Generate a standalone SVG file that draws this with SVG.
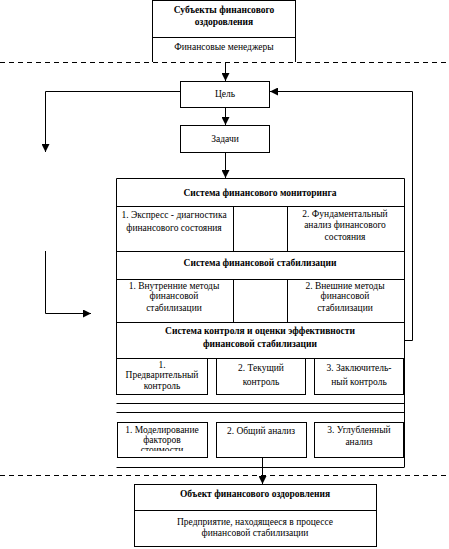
<svg xmlns="http://www.w3.org/2000/svg" width="449" height="549" viewBox="0 0 449 549">
<style>
.box{fill:#fff;stroke:#000;stroke-width:1}
.ln{fill:none;stroke:#000;stroke-width:1}
.dash{fill:none;stroke:#000;stroke-width:1;stroke-dasharray:5,4}
text{font-family:"Liberation Serif","Times New Roman","DejaVu Serif",serif;font-size:9.5px;fill:#000;text-anchor:middle}
.b{font-weight:bold}
</style>
<defs>
<marker id="ah" viewBox="0 0 10 10" refX="10" refY="5" markerWidth="8" markerHeight="8" markerUnits="userSpaceOnUse" orient="auto">
<path d="M0,0 L10,5 L0,10 z" fill="#000"/>
</marker>
<clipPath id="c1"><rect x="117" y="422" width="90" height="29"/></clipPath>
</defs>
<rect width="449" height="549" fill="#fff"/>

<g id="subjects">
<path class="ln" d="M152.5,0.5 H295.5 M152.5,0 V62 M295.5,0 V62 M152.5,37.5 H295.5"/>
<text class="b" x="224" y="13">Субъекты финансового</text>
<text class="b" x="224" y="25">оздоровления</text>
<text x="224" y="50">Финансовые менеджеры</text>
</g>

<g id="dividers">
<line class="dash" x1="0" y1="62.5" x2="449" y2="62.5"/>
<line class="dash" x1="0" y1="475.5" x2="449" y2="475.5"/>
</g>

<g id="goal">
<rect class="box" x="180.5" y="81.5" width="89" height="26"/>
<text x="225" y="97">Цель</text>
</g>

<g id="tasks">
<rect class="box" x="180.5" y="125.5" width="89" height="27"/>
<text x="225" y="142">Задачи</text>
</g>

<g id="systems">
<path class="ln" d="M116.5,178.5 H404.5 V467 M116.5,178.5 V358 M116.5,206.5 H404.5 M116.5,251.5 H404.5 M116.5,279.5 H404.5 M116.5,322.5 H404.5 M116.5,358.5 H404.5 M233.5,206.5 V251.5 M287.5,206.5 V251.5 M233.5,279.5 V322.5 M287.5,279.5 V322.5 M116.5,403.5 H404.5 M116.5,412.5 H404.5 M116.5,467.5 H404.5"/>
<text class="b" x="260" y="196">Система финансового мониторинга</text>
<text x="174" y="218">1. Экспресс - диагностика</text>
<text x="174" y="231">финансового состояния</text>
<text x="345" y="217">2. Фундаментальный</text>
<text x="345" y="228">анализ финансового</text>
<text x="345" y="240">состояния</text>
<text class="b" x="260" y="266">Система финансовой стабилизации</text>
<text x="174" y="289">1. Внутренние методы</text>
<text x="174" y="299">финансовой</text>
<text x="174" y="311">стабилизации</text>
<text x="345" y="289">2. Внешние методы</text>
<text x="345" y="299">финансовой</text>
<text x="345" y="311">стабилизации</text>
<text class="b" x="260" y="334">Система контроля и оценки эффективности</text>
<text class="b" x="260" y="347">финансовой стабилизации</text>
</g>

<g id="control1">
<rect class="box" x="116.5" y="358.5" width="91" height="36"/>
<text x="162" y="368">1.</text>
<text x="162" y="378">Предварительный</text>
<text x="162" y="389">контроль</text>
</g>
<g id="control2">
<rect class="box" x="216.5" y="358.5" width="89" height="36"/>
<text x="261" y="371">2. Текущий</text>
<text x="261" y="385">контроль</text>
</g>
<g id="control3">
<rect class="box" x="314.5" y="358.5" width="89" height="36"/>
<text x="359" y="371">3. Заключитель-</text>
<text x="359" y="385">ный контроль</text>
</g>

<g id="analysis1">
<rect class="box" x="117.5" y="422.5" width="90" height="35"/>
<g clip-path="url(#c1)">
<text x="162" y="433">1. Моделирование</text>
<text x="162" y="443">факторов</text>
<text x="162" y="453">стоимости</text>
</g>
</g>
<g id="analysis2">
<rect class="box" x="216.5" y="422.5" width="90" height="35"/>
<text x="261" y="434">2. Общий анализ</text>
</g>
<g id="analysis3">
<rect class="box" x="314.5" y="422.5" width="89" height="35"/>
<text x="359" y="433">3. Углубленный</text>
<text x="359" y="445">анализ</text>
</g>

<g id="object">
<rect class="box" x="134.5" y="484.5" width="242" height="62"/>
<line class="ln" x1="134.5" y1="510.5" x2="376.5" y2="510.5"/>
<text class="b" x="255" y="497">Объект финансового оздоровления</text>
<text x="255" y="525">Предприятие, находящееся в процессе</text>
<text x="255" y="536">финансовой стабилизации</text>
</g>

<g id="connectors">
<line class="ln" x1="225.5" y1="62" x2="225.5" y2="81" marker-end="url(#ah)"/>
<line class="ln" x1="225.5" y1="107" x2="225.5" y2="125" marker-end="url(#ah)"/>
<line class="ln" x1="225.5" y1="152" x2="225.5" y2="178" marker-end="url(#ah)"/>
<polyline class="ln" points="180,91.5 45.5,91.5 45.5,152" marker-end="url(#ah)"/>
<polyline class="ln" points="404,340.5 412.5,340.5 412.5,91.5 270,91.5" marker-end="url(#ah)"/>
<polyline class="ln" points="45.5,251 45.5,313.5 91,313.5" marker-end="url(#ah)"/>
<line class="ln" x1="262.5" y1="457" x2="262.5" y2="484" marker-end="url(#ah)"/>
</g>
</svg>
